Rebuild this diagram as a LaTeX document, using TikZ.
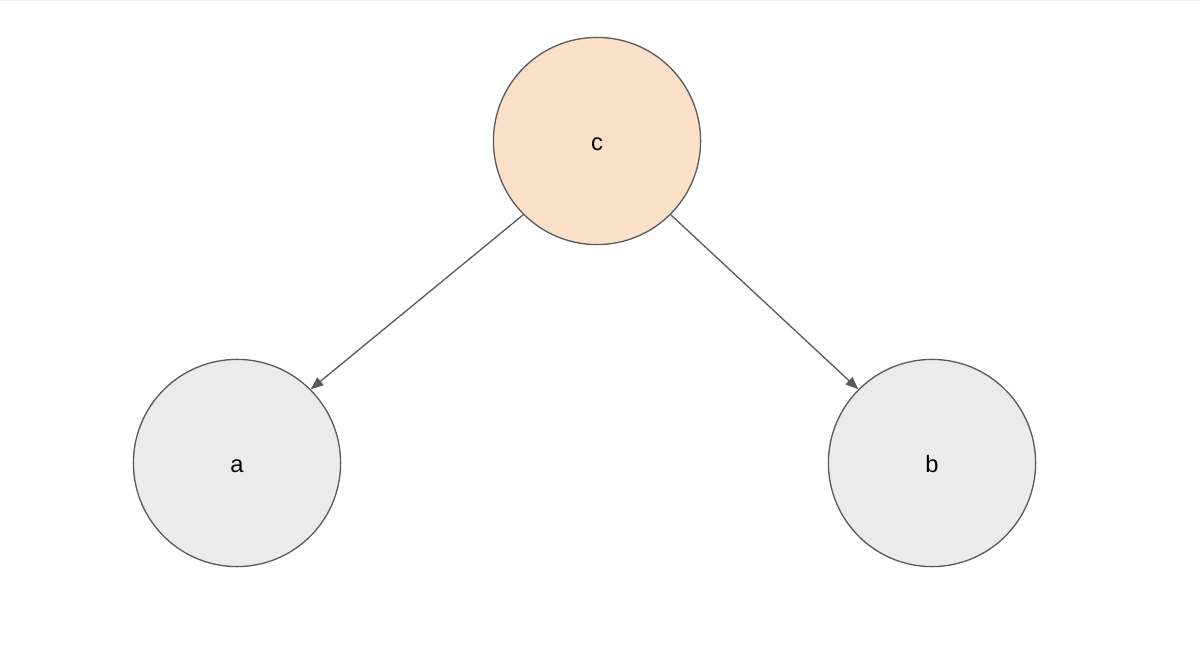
\documentclass[tikz,border=0pt]{standalone}
\usepackage{fontspec}
\setmainfont{Liberation Sans}
\usetikzlibrary{arrows.meta}
\definecolor{peach}{RGB}{250,224,200}
\definecolor{lgray}{RGB}{235,235,235}
\definecolor{strokec}{RGB}{90,90,90}
\definecolor{topline}{RGB}{238,238,238}
\tikzset{
  vert/.style={circle, draw=strokec, line width=0.75pt, minimum size=208*0.567pt, inner sep=0pt, text height=12.2pt, text depth=1.6pt, font=\fontsize{13.5}{16}\selectfont},
  edge/.style={draw=strokec, line width=0.75pt, -{Triangle[length=7.2pt,width=5.6pt]}}
}
\begin{document}
\begin{tikzpicture}[x=0.02cm,y=-0.02cm]
\useasboundingbox (0,0) rectangle (1200,665);
\fill[white] (0,0) rectangle (1200,665);
\draw[topline, line width=1pt] (0,0.5) -- (1200,0.5);
\node[vert, fill=peach] (c) at (597,141) {c};
\node[vert, fill=lgray] (a) at (237,463) {a};
\node[vert, fill=lgray] (b) at (932,463) {b};
\draw[edge] (c.225) -- (a.45);
\draw[edge] (c.-45) -- (b.135);
\end{tikzpicture}
\end{document}
